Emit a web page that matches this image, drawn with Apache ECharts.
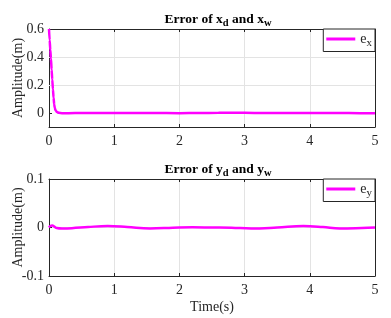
<!DOCTYPE html>
<html><head><meta charset="utf-8">
<script src="https://cdn.jsdelivr.net/npm/echarts@6/dist/echarts.min.js"></script>
<style>html,body{margin:0;padding:0;background:#fff}#c{width:391px;height:318px}</style>
</head><body><div id="c"></div>
<script>
// Data
const tX = [0, 0.01, 0.02, 0.03, 0.04, 0.05, 0.06, 0.07, 0.08, 0.09, 0.1, 0.12, 0.15, 0.2, 0.3, 0.5, 0.8, 1.0, 1.3, 1.6, 2.0, 2.3, 2.6, 2.8, 3.0, 3.3, 3.6, 4.0, 4.3, 4.6, 5.0];
const eX = [0.6, 0.52, 0.45, 0.39, 0.31, 0.24, 0.17, 0.11, 0.06, 0.035, 0.02, 0.008, 0.001, -0.001, -0.001, -0.0005, 0, 0, 0.0005, 0, -0.001, 0, 0.0015, 0.002, 0.001, 0, 0, 0, 0, -0.0005, -0.002];
const tY = [0, 0.02, 0.05, 0.08, 0.12, 0.2, 0.35, 0.6, 0.9, 1.2, 1.55, 1.9, 2.2, 2.5, 2.8, 3.1, 3.5, 3.9, 4.2, 4.46, 4.8, 5.0];
const eY = [0, 0.003, 0.004, 0.002, -0.001, -0.002, -0.0015, 0.001, 0.003, 0.001, -0.002, -0.0005, 0.0005, 0, -0.0005, -0.002, 0, 0.003, 0.001, -0.002, -0.001, 0];
const xTicks = [0, 1, 2, 3, 4, 5];
const yTicksTop = [0, 0.2, 0.4, 0.6];
const yTicksBot = [-0.1, 0, 0.1];

const F = 'Liberation Serif, Times New Roman, serif';
const AX = '#262626';
const GRID = '#e3e3e3';
const MAG = '#ff00ff';

const chart = echarts.init(document.getElementById('c'));
const subTitle = {
  b: {fontFamily: F, fontWeight: 'bold', fontSize: 13.5, color: '#000'},
  s: {fontFamily: F, fontWeight: 'bold', fontSize: 10.5, color: '#000', padding: [7, 0, 0, 0]}
};
function xAxisMain(gi, name) {
  return {
    type: 'value', gridIndex: gi, min: 0, max: 5, interval: 1,
    name: name || '', nameLocation: 'middle', nameGap: 24,
    nameTextStyle: {fontFamily: F, fontSize: 14, color: '#262626'},
    axisLine: {show: true, onZero: false, lineStyle: {color: AX, width: 1}},
    axisTick: {show: true, inside: true, length: 3, lineStyle: {color: AX}},
    axisLabel: {fontFamily: F, fontSize: 14, color: '#262626', margin: 7},
    splitLine: {show: true, lineStyle: {color: GRID, width: 1}}
  };
}
function xAxisTop(gi) {
  return {
    type: 'value', gridIndex: gi, position: 'top', min: 0, max: 5, interval: 1,
    axisLine: {show: true, onZero: false, lineStyle: {color: AX}},
    axisTick: {show: true, inside: true, length: 3, lineStyle: {color: AX}},
    axisLabel: {show: false}, splitLine: {show: false}
  };
}
const legendRich = s => ({rich: {a: {fontFamily: F, fontSize: 14, color: '#262626'}, s: {fontFamily: F, fontSize: 11, color: '#262626', padding: [8, 0, 0, 0]}}});
chart.setOption({
  animation: false,
  backgroundColor: '#fff',
  title: [
    {text: '{b|Error of x}{s|d}{b| and x}{s|w}', left: 213, top: 6, textAlign: 'center',
     textStyle: {rich: subTitle}},
    {text: '{b|Error of y}{s|d}{b| and y}{s|w}', left: 213, top: 156, textAlign: 'center',
     textStyle: {rich: subTitle}}
  ],
  grid: [
    {left: 49, right: 16, top: 29, height: 98, containLabel: false, outerBoundsMode: 'none'},
    {left: 49, right: 16, top: 179, height: 97, containLabel: false, outerBoundsMode: 'none'}
  ],
  legend: [
    {data: ['ex'], right: 16, top: 29, orient: 'vertical',
     backgroundColor: '#fff', borderColor: AX, borderWidth: 1, padding: [3, 3, 3, 3],
     icon: 'rect', itemWidth: 29, itemHeight: 3, itemGap: 0,
     formatter: () => '{a|e}{s|x}', textStyle: legendRich()},
    {data: ['ey'], right: 16, top: 179, orient: 'vertical',
     backgroundColor: '#fff', borderColor: AX, borderWidth: 1, padding: [3, 3, 3, 3],
     icon: 'rect', itemWidth: 29, itemHeight: 3, itemGap: 0,
     formatter: () => '{a|e}{s|y}', textStyle: legendRich()}
  ],
  xAxis: [xAxisMain(0), xAxisTop(0), xAxisMain(1, 'Time(s)'), xAxisTop(1)],
  yAxis: [
    {type: 'value', gridIndex: 0, min: -0.1, max: 0.6, interval: 0.1,
     name: 'Amplitude(m)', nameLocation: 'middle', nameGap: 24, nameMoveOverlap: false,
     nameTextStyle: {fontFamily: F, fontSize: 14, color: '#262626'},
     axisLine: {show: true, onZero: false, lineStyle: {color: AX}},
     axisTick: {show: true, inside: true, length: 3, lineStyle: {color: AX}, customValues: yTicksTop},
     axisLabel: {fontFamily: F, fontSize: 14, color: '#262626', margin: 5, customValues: yTicksTop,
       formatter: v => (Math.abs(v) < 1e-9 ? '0' : String(+v.toFixed(1)))},
     splitLine: {show: false}},
    {type: 'value', gridIndex: 0, position: 'right', min: -0.1, max: 0.6, interval: 0.1,
     axisLine: {show: true, onZero: false, lineStyle: {color: AX}},
     axisTick: {show: true, inside: true, length: 3, lineStyle: {color: AX}, customValues: yTicksTop},
     axisLabel: {show: false}, splitLine: {show: false}},
    {type: 'value', gridIndex: 1, min: -0.1, max: 0.1, interval: 0.1,
     name: 'Amplitude(m)', nameLocation: 'middle', nameGap: 24, nameMoveOverlap: false,
     nameTextStyle: {fontFamily: F, fontSize: 14, color: '#262626'},
     axisLine: {show: true, onZero: false, lineStyle: {color: AX}},
     axisTick: {show: true, inside: true, length: 3, lineStyle: {color: AX}},
     axisLabel: {fontFamily: F, fontSize: 14, color: '#262626', margin: 5,
       formatter: v => (Math.abs(v) < 1e-9 ? '0' : String(+v.toFixed(1)))},
     splitLine: {show: true, lineStyle: {color: GRID}}},
    {type: 'value', gridIndex: 1, position: 'right', min: -0.1, max: 0.1, interval: 0.1,
     axisLine: {show: true, onZero: false, lineStyle: {color: AX}},
     axisTick: {show: true, inside: true, length: 3, lineStyle: {color: AX}},
     axisLabel: {show: false}, splitLine: {show: false}}
  ],
  series: [
    {name: 'ex', type: 'line', xAxisIndex: 0, yAxisIndex: 0, showSymbol: false, symbol: 'none',
     smooth: 0.3, smoothMonotone: 'x', color: MAG, lineStyle: {color: MAG, width: 2.5}, z: 5,
     data: tX.map((t, i) => [t, eX[i]]),
     markLine: {silent: true, symbol: 'none', label: {show: false}, animation: false,
       lineStyle: {color: GRID, width: 1, type: 'solid'}, z: 1,
       data: yTicksTop.filter(v => v > 0 && v < 0.6).map(v => ({yAxis: v}))}},
    {name: 'ey', type: 'line', xAxisIndex: 2, yAxisIndex: 2, showSymbol: false, symbol: 'none',
     smooth: 0.4, color: MAG, lineStyle: {color: MAG, width: 2.5}, z: 5,
     data: tY.map((t, i) => [t, eY[i]])}
  ]
});
</script></body></html>
